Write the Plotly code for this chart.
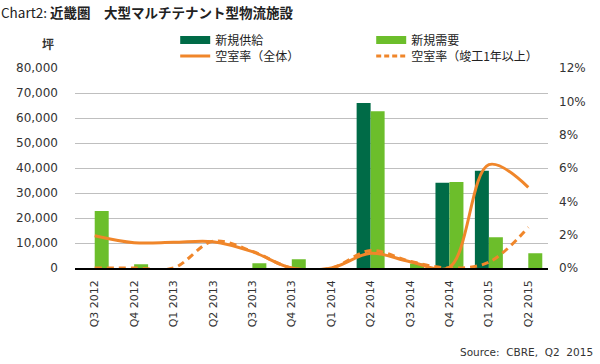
import plotly.graph_objects as go

categories = ["Q3 2012", "Q4 2012", "Q1 2013", "Q2 2013", "Q3 2013", "Q4 2013",
              "Q1 2014", "Q2 2014", "Q3 2014", "Q4 2014", "Q1 2015", "Q2 2015"]
supply = [0, 0, 0, 0, 0, 0, 0, 66000, 0, 34100, 38900, 0]
demand = [22800, 1500, 0, 0, 1900, 3500, 0, 62700, 1800, 34400, 12300, 5900]
vacancy_all = [1.94, 1.52, 1.54, 1.58, 0.98, 0.0, 0.0, 0.88, 0.38, 0.05, 6.2, 4.84]
vacancy_1yr = [0.0, 0.0, 0.0, 1.6, 1.0, 0.0, 0.0, 1.05, 0.4, 0.0, 0.35, 2.44]

C_SUP = "#006B47"
C_DEM = "#6CBE2B"
C_ORG = "#F0862A"
FONT = "Noto Sans CJK JP"
NUMFONT = "DejaVu Sans"

fig = go.Figure()
fig.add_trace(go.Bar(x=categories, y=supply, name="新規供給", marker_color=C_SUP,
                     marker_line_width=0, showlegend=False, offsetgroup="a"))
fig.add_trace(go.Bar(x=categories, y=demand, name="新規需要", marker_color=C_DEM,
                     marker_line_width=0, showlegend=False, offsetgroup="b"))
fig.add_trace(go.Scatter(x=categories, y=vacancy_all, yaxis="y2", mode="lines",
                         line=dict(color=C_ORG, width=3, shape="spline", smoothing=1.0),
                         showlegend=False))
fig.add_trace(go.Scatter(x=categories, y=vacancy_1yr, yaxis="y2", mode="lines",
                         line=dict(color=C_ORG, width=3, dash="7px,5px", shape="spline", smoothing=1.0),
                         showlegend=False))

# legend entries
fig.add_trace(go.Scatter(x=[categories[0]], y=[None], mode="lines", name="新規供給",
                         line=dict(color=C_SUP, width=8), legend="legend"))
fig.add_trace(go.Scatter(x=[categories[0]], y=[None], mode="lines", name="新規需要",
                         line=dict(color=C_DEM, width=8), legend="legend"))
fig.add_trace(go.Scatter(x=[categories[0]], y=[None], mode="lines", name="空室率（全体）",
                         line=dict(color=C_ORG, width=3), legend="legend2"))
fig.add_trace(go.Scatter(x=[categories[0]], y=[None], mode="lines", name="空室率（竣工1年以上）",
                         line=dict(color=C_ORG, width=3, dash="5px,3px"), legend="legend2"))

leg_common = dict(orientation="h", xref="container", yref="container", xanchor="left",
                  yanchor="middle", entrywidth=151, entrywidthmode="pixels",
                  font=dict(size=12, family=FONT, color="#222222"), itemwidth=30,
                  bgcolor="rgba(0,0,0,0)", tracegroupgap=0)

fig.update_layout(
    width=600, height=364,
    margin=dict(l=75, r=52, t=68, b=96, autoexpand=False),
    paper_bgcolor="white", plot_bgcolor="white",
    font=dict(family=FONT, size=12, color="#333333"),
    barmode="group", bargap=0.29, bargroupgap=0,
    xaxis=dict(type="category", tickangle=-90, automargin=False, ticklabelstandoff=6,
               tickfont=dict(size=11, family=NUMFONT, color="#333333"),
               showgrid=False, showline=True, linecolor="black", linewidth=1.5, ticks=""),
    yaxis=dict(range=[0, 80000], dtick=10000, tickformat=",", showgrid=True, automargin=False,
               gridcolor="#BFBFBF", gridwidth=1, zeroline=False, ticks="", ticklen=0,
               ticklabelstandoff=16,
               tickfont=dict(size=12, family=NUMFONT, color="#333333")),
    yaxis2=dict(range=[0, 12], dtick=2, ticksuffix="%", overlaying="y", side="right",
                showgrid=False, zeroline=False, ticklabelstandoff=10, automargin=False,
                tickfont=dict(size=12, family=NUMFONT, color="#333333")),
    legend=dict(x=0.292, y=1 - 40 / 364, **leg_common),
    legend2=dict(x=0.292, y=1 - 56 / 364, **leg_common),
    showlegend=True,
)

fig.add_annotation(text="Chart2: <b>近畿圏　大型マルチテナント型物流施設</b>", xref="paper", yref="paper",
                   x=-0.160, y=1.28, xanchor="left", yanchor="middle", showarrow=False,
                   font=dict(size=13.5, family=FONT, color="#222222"))
fig.add_annotation(text="<b>坪</b>", xref="paper", yref="paper", x=-0.058, y=1.12,
                   xanchor="center", yanchor="middle", showarrow=False,
                   font=dict(size=12, family=FONT, color="#333333"))
fig.add_annotation(text="Source:  CBRE,  Q2  2015", xref="paper", yref="paper", x=1.099, y=-0.42,
                   xanchor="right", yanchor="middle", showarrow=False,
                   font=dict(size=10.5, family=NUMFONT, color="#333333"))

fig.write_html("out.html", config={"displayModeBar": False},
               post_script="document.body.style.margin='0px';document.body.style.padding='0px';")
